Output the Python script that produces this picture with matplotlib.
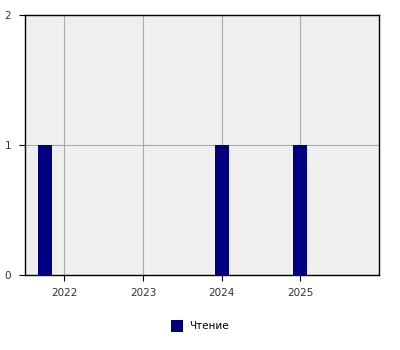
import matplotlib.pyplot as plt
from matplotlib.patches import Patch

# data
years = [2021.75, 2024, 2025]
counts = [1, 1, 1]
tick_years = [2022, 2023, 2024, 2025]
series_name = "Чтение"

fig = plt.figure(figsize=(4, 3.5), dpi=100)
ax = fig.add_axes([25 / 400, 75 / 350, 354 / 400, 260 / 350])
ax.set_facecolor("#efefef")

ax.bar(years, counts, width=0.18, color="#000080", zorder=3)

ax.set_xlim(2021.5, 2026.0)
ax.set_ylim(0, 2)
ax.set_xticks(tick_years)
ax.set_xticklabels([str(y) for y in tick_years])
ax.set_yticks([0, 1, 2])
ax.grid(True, color="#aaaaaa", linewidth=0.8, zorder=0)
for s in ax.spines.values():
    s.set_linewidth(1.0)
    s.set_color("black")
ax.tick_params(axis="both", labelsize=7.5, length=4, width=0.8, colors="black", labelcolor="#333333")
ax.tick_params(axis="x", pad=5)
ax.tick_params(axis="y", pad=6)

fig.legend(handles=[Patch(facecolor="#000080", label=series_name)],
           loc="center", bbox_to_anchor=(0.5, 24 / 350), frameon=False,
           fontsize=7.5, handlelength=1.1, handleheight=1.3, handletextpad=0.6)

fig.savefig("out.png", dpi=100)
